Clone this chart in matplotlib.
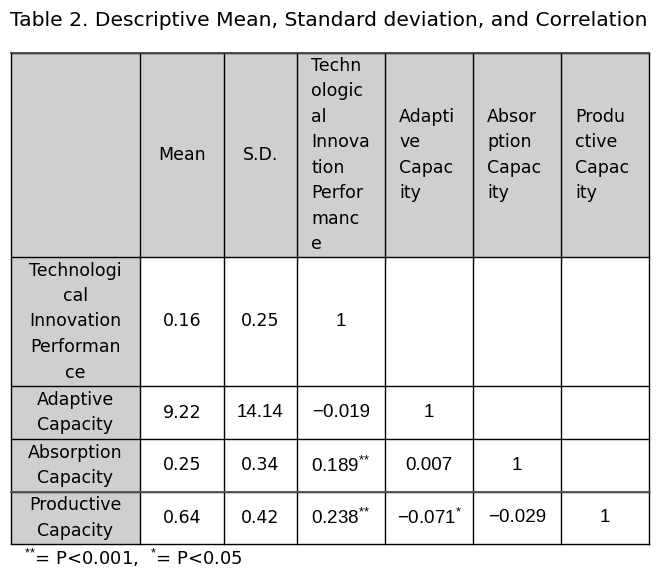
import matplotlib
matplotlib.use("Agg")
import matplotlib.pyplot as plt
from matplotlib.patches import Rectangle

plt.rcParams['font.family'] = ['DejaVu Sans']
plt.rcParams['mathtext.fontset'] = 'custom'
plt.rcParams['mathtext.rm'] = 'Liberation Sans'

# table contents
title = "Table 2. Descriptive Mean, Standard deviation, and Correlation"
col_labels = [["Mean"], ["S.D."],
              ["Techn", "ologic", "al", "Innova", "tion", "Perfor", "manc", "e"],
              ["Adapti", "ve", "Capac", "ity"],
              ["Absor", "ption", "Capac", "ity"],
              ["Produ", "ctive", "Capac", "ity"]]
row_labels = [["Technologi", "cal", "Innovation", "Performan", "ce"],
              ["Adaptive", "Capacity"],
              ["Absorption", "Capacity"],
              ["Productive", "Capacity"]]
means = ["0.16", "9.22", "0.25", "0.64"]
sds = ["0.25", "14.14", "0.34", "0.42"]
corr = [["1", "", "", ""],
        ["\u22120.019", "1", "", ""],
        ["0.189**", "0.007", "1", ""],
        ["0.238**", "\u22120.071*", "\u22120.029", "1"]]
footnote = "$^{{*}{*}}$= P<0.001,  $^{*}$= P<0.05"

# layout in pixels
W, H = 669, 578
xs = [11, 140, 224, 297, 385, 473, 561, 649]
ys = [53, 257, 386, 439, 492, 544]
line_h = 25.5
gray = '#cfcfcf'
fs = 12.5

fig = plt.figure(figsize=(W / 100, H / 100), dpi=100)
ax = fig.add_axes([0, 0, 1, 1])
ax.set_xlim(0, W)
ax.set_ylim(H, 0)
ax.axis('off')

def lines_text(x, yc, lines, ha='center', family=None, size=fs):
    n = len(lines)
    for i, s in enumerate(lines):
        y = yc + (i - (n - 1) / 2) * line_h
        ax.text(x, y, s, ha=ha, va='center', fontsize=size, family=family)

def star_text(s):
    if s.endswith('**'):
        return s[:-2] + '$^{{*}{*}}$'
    if s.endswith('*'):
        return s[:-1] + '$^{*}$'
    return s

# backgrounds
ax.add_patch(Rectangle((xs[0], ys[0]), xs[-1] - xs[0], ys[1] - ys[0], fc=gray, ec='none'))
ax.add_patch(Rectangle((xs[0], ys[1]), xs[1] - xs[0], ys[-1] - ys[1], fc=gray, ec='none'))

# grid lines
for x in xs:
    ax.plot([x, x], [ys[0], ys[-1]], color='black', lw=1.0)
for y in ys:
    ax.plot([xs[0], xs[-1]], [y, y], color='black', lw=1.0)
ax.plot([xs[0], xs[-1]], [ys[0], ys[0]], color='#444444', lw=1.2)
ax.plot([xs[0], xs[-1]], [ys[4], ys[4]], color='#555555', lw=1.3)

# header
hc = (ys[0] + ys[1]) / 2
for j, lab in enumerate(col_labels):
    c = j + 1
    if c <= 2:
        lines_text((xs[c] + xs[c + 1]) / 2, hc, lab)
    else:
        lines_text(xs[c] + 14, hc, lab, ha='left')

# body
for i, lab in enumerate(row_labels):
    yc = (ys[i + 1] + ys[i + 2]) / 2
    lines_text((xs[0] + xs[1]) / 2, yc, lab)
    lines_text((xs[1] + xs[2]) / 2, yc, [means[i]])
    if i == 1:
        lines_text((xs[2] + xs[3]) / 2, yc, [sds[i]], family='Liberation Sans', size=13.5)
    else:
        lines_text((xs[2] + xs[3]) / 2, yc, [sds[i]])
    for j, v in enumerate(corr[i]):
        if v:
            lines_text((xs[3 + j] + xs[4 + j]) / 2, yc, [star_text(v)],
                       family='Liberation Sans', size=13.5)

ax.text(10, 20, title, ha='left', va='center', fontsize=14.6)
ax.text(24, 558, footnote, ha='left', va='center', fontsize=13)

fig.savefig('out.png', dpi=100)
